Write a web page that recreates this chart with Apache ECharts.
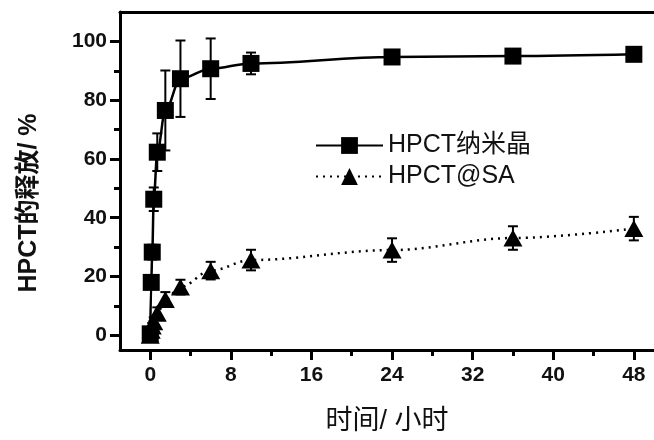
<!DOCTYPE html>
<html>
<head>
<meta charset="utf-8">
<script src="https://cdn.jsdelivr.net/npm/echarts@6/dist/echarts.min.js"></script>
<style>html,body{margin:0;padding:0;background:#fff;}#c{width:654px;height:440px;}</style>
</head>
<body>
<div id="c"></div>
<script>
// ---- data ----
const seriesNames = ['HPCT纳米晶', 'HPCT@SA'];
const timeHours = [0, 0.1, 0.2, 0.35, 0.7, 1.5, 3, 6, 10, 24, 36, 48];
const nanoRelease = [0.5, 18, 28.3, 46.3, 62.3, 76.5, 87.3, 90.7, 92.5, 94.7, 95.0, 95.6];
const nanoError = [0.5, 2, 2.5, 4, 6.4, 13.6, 13, 10.3, 3.7, 1.5, 1.2, 1.2];
const saRelease = [0, 1.7, 3.2, 4.6, 7.5, 12.2, 16.4, 22.0, 25.6, 29.0, 33.1, 36.3];
const saError = [0.5, 1, 1, 1.5, 2, 2.5, 2.5, 3, 3.5, 4, 4, 4];
const xMajorTicks = [0, 8, 16, 24, 32, 40, 48];
const xMinorTicks = [4, 12, 20, 28, 36, 44];
const yMajorTicks = [0, 20, 40, 60, 80, 100];
const yMinorTicks = [10, 30, 50, 70, 90];
const xTitle = '时间/ 小时';
const yTitle = 'HPCT的释放/ %';

const FONT = '"Liberation Sans", Arial, "Noto Sans CJK SC", sans-serif';
const X_MIN = -3, X_MAX = 50, Y_MIN = -5, Y_MAX = 110;
const gridRect = { left: 120, right: -5, top: 12, bottom: 90 };

function pairs(xs, ys) { return xs.map((x, i) => [x, ys[i]]); }
function errTriples(xs, ys, es) { return xs.map((x, i) => [x, ys[i] - es[i], ys[i] + es[i]]); }

function errRender(params, api) {
  const x = api.value(0);
  const lo = api.coord([x, api.value(1)]);
  const hi = api.coord([x, api.value(2)]);
  const hw = 5;
  const st = { stroke: '#000', lineWidth: 2 };
  return {
    type: 'group',
    children: [
      { type: 'line', shape: { x1: lo[0], y1: lo[1], x2: hi[0], y2: hi[1] }, style: st },
      { type: 'line', shape: { x1: lo[0] - hw, y1: lo[1], x2: lo[0] + hw, y2: lo[1] }, style: st },
      { type: 'line', shape: { x1: hi[0] - hw, y1: hi[1], x2: hi[0] + hw, y2: hi[1] }, style: st }
    ]
  };
}

const chart = echarts.init(document.getElementById('c'), null, { renderer: 'canvas' });
chart.setOption({
  backgroundColor: '#fff',
  animation: false,
  textStyle: { fontFamily: FONT },
  grid: [
    Object.assign({ containLabel: false }, gridRect),
    Object.assign({ containLabel: false }, gridRect)
  ],
  xAxis: [
    {
      type: 'value', gridIndex: 0, position: 'bottom', min: X_MIN, max: X_MAX,
      name: xTitle, nameLocation: 'middle', nameGap: 58,
      nameTextStyle: { fontSize: 27, color: '#111', fontFamily: FONT },
      axisLine: { show: true, onZero: false, lineStyle: { color: '#000', width: 3 } },
      axisTick: { show: true, customValues: xMajorTicks, length: 10, lineStyle: { color: '#000', width: 3 } },
      axisLabel: { show: true, customValues: xMajorTicks, margin: 15, fontSize: 21, fontWeight: 'bold', color: '#111', fontFamily: FONT },
      splitLine: { show: false }
    },
    {
      type: 'value', gridIndex: 0, position: 'top', min: X_MIN, max: X_MAX,
      axisLine: { show: true, onZero: false, lineStyle: { color: '#000', width: 3 } },
      axisTick: { show: false }, axisLabel: { show: false }, splitLine: { show: false }
    },
    {
      type: 'value', gridIndex: 1, position: 'bottom', min: X_MIN, max: X_MAX,
      axisLine: { show: false, onZero: false },
      axisTick: { show: true, customValues: xMinorTicks, length: 6, lineStyle: { color: '#000', width: 3 } },
      axisLabel: { show: false }, splitLine: { show: false }
    }
  ],
  yAxis: [
    {
      type: 'value', gridIndex: 0, position: 'left', min: Y_MIN, max: Y_MAX,
      name: yTitle, nameLocation: 'middle', nameRotate: 90, nameGap: 78,
      nameTextStyle: { fontSize: 25, fontWeight: 'bold', color: '#111', fontFamily: FONT, padding: [0, 44, 0, 0] },
      axisLine: { show: true, onZero: false, lineStyle: { color: '#000', width: 3 } },
      axisTick: { show: true, customValues: yMajorTicks, length: 10, lineStyle: { color: '#000', width: 3 } },
      axisLabel: { show: true, customValues: yMajorTicks, margin: 13, fontSize: 21, fontWeight: 'bold', color: '#111', fontFamily: FONT },
      splitLine: { show: false }
    },
    {
      type: 'value', gridIndex: 1, position: 'left', min: Y_MIN, max: Y_MAX,
      axisLine: { show: false, onZero: false },
      axisTick: { show: true, customValues: yMinorTicks, length: 6, lineStyle: { color: '#000', width: 3 } },
      axisLabel: { show: false }, splitLine: { show: false }
    }
  ],
  legend: {
    orient: 'vertical', left: 315, top: 133, padding: 0,
    itemWidth: 67, itemHeight: 21, itemGap: 6,
    textStyle: { fontSize: 25, color: '#111', fontFamily: FONT },
    data: seriesNames
  },
  series: [
    {
      name: seriesNames[0], type: 'line', xAxisIndex: 0, yAxisIndex: 0,
      data: pairs(timeHours, nanoRelease),
      smooth: 0.35, smoothMonotone: 'x',
      symbol: 'rect', symbolSize: 17,
      itemStyle: { color: '#000' },
      lineStyle: { color: '#000', width: 2.5, type: 'solid' },
      z: 5
    },
    {
      name: seriesNames[1], type: 'line', xAxisIndex: 0, yAxisIndex: 0,
      data: pairs(timeHours, saRelease),
      smooth: 0.35, smoothMonotone: 'x',
      symbol: 'triangle', symbolSize: [19, 17],
      itemStyle: { color: '#000' },
      lineStyle: { color: '#000', width: 2.5, type: [2, 5] },
      z: 5
    },
    {
      type: 'custom', xAxisIndex: 0, yAxisIndex: 0,
      data: errTriples(timeHours, nanoRelease, nanoError),
      renderItem: errRender, z: 4, silent: true
    },
    {
      type: 'custom', xAxisIndex: 0, yAxisIndex: 0,
      data: errTriples(timeHours, saRelease, saError),
      renderItem: errRender, z: 4, silent: true
    }
  ]
});
</script>
</body>
</html>
